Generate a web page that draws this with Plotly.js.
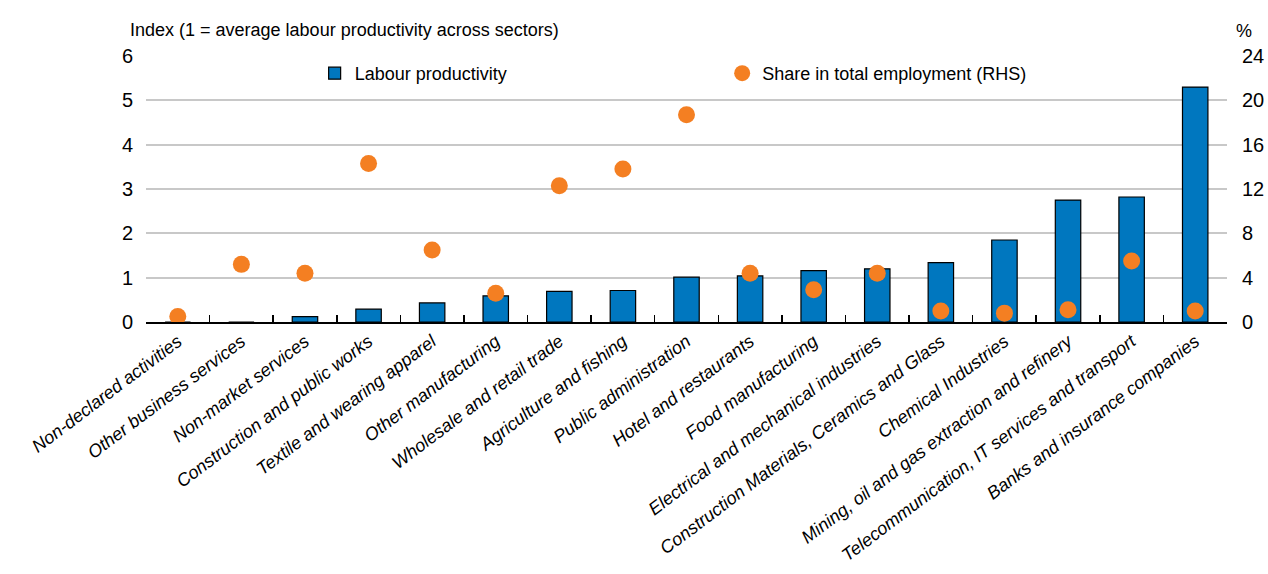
<!DOCTYPE html>
<html><head><meta charset="utf-8">
<script src="https://cdn.plot.ly/plotly-3.0.1.min.js"></script>
<style>html,body{margin:0;padding:0;background:#fff}#chart{width:1268px;height:574px}</style>
</head><body><div id="chart"></div>
<script>
const categories = ["Non-declared activities","Other business services","Non-market services","Construction and public works","Textile and wearing apparel","Other manufacturing","Wholesale and retail trade","Agriculture and fishing","Public administration","Hotel and restaurants","Food manufacturing","Electrical and mechanical industries","Construction Materials, Ceramics and Glass","Chemical Industries","Mining, oil and gas extraction and refinery","Telecommunication, IT services and transport","Banks and insurance companies"];
const productivity = [0.0, 0.0, 0.12, 0.29, 0.43, 0.59, 0.69, 0.71, 1.01, 1.04, 1.16, 1.20, 1.34, 1.85, 2.75, 2.82, 5.30];
const employmentShare = [0.5, 5.2, 4.4, 14.3, 6.5, 2.6, 12.3, 13.8, 18.7, 4.4, 2.9, 4.4, 1.0, 0.8, 1.1, 5.5, 1.0];
const leftTicks = [0,1,2,3,4,5,6];
const rightTicks = [0,4,8,12,16,20,24];

const FONT = '"Liberation Sans", Arial, sans-serif';
const traces = [
  {type:'bar', x:categories, y:productivity, name:'Labour productivity', yaxis:'y', legend:'legend',
   marker:{color:'#0077BF', line:{color:'#000', width:1.2}}, width:0.4},
  {type:'scatter', mode:'markers', x:categories, y:employmentShare, name:'Share in total employment (RHS)', yaxis:'y2', legend:'legend2',
   marker:{color:'#F47F22', size:17}}
];
const layout = {
  width:1268, height:574,
  margin:{l:146, r:41, t:56, b:252},
  paper_bgcolor:'#fff', plot_bgcolor:'#fff',
  font:{family:FONT, size:18, color:'#000'},
  xaxis:{type:'category', range:[-0.5, categories.length-0.5], tickangle:-37, tickfont:{family:FONT, size:18, style:'italic'},
         ticks:'inside', tickson:'boundaries', ticklen:7, tickcolor:'#000', tickwidth:1.5,
         showline:true, linecolor:'#000', linewidth:2, showgrid:false, automargin:false},
  yaxis:{range:[0,6], tickvals:leftTicks, showgrid:true, gridcolor:'#C8C8C8', gridwidth:2,
         zeroline:false, showline:false, ticks:'', tickfont:{size:20}, ticklabelstandoff:12, automargin:false},
  yaxis2:{range:[0,24], tickvals:rightTicks, overlaying:'y', side:'right', showgrid:false,
          zeroline:false, showline:false, ticks:'', tickfont:{size:20}, ticklabelstandoff:14, automargin:false},
  showlegend:true,
  legend:{x:0.156, y:1.004, xanchor:'left', yanchor:'top', bgcolor:'rgba(0,0,0,0)', font:{size:18}},
  legend2:{x:0.533, y:1.004, xanchor:'left', yanchor:'top', bgcolor:'rgba(0,0,0,0)', font:{size:18}},
  annotations:[
    {xref:'paper', yref:'paper', x:-0.0167, y:1.0, yshift:26, xanchor:'left', yanchor:'middle', showarrow:false,
     text:'Index (1 = average labour productivity across sectors)', font:{size:18}},
    {xref:'paper', yref:'paper', x:1.0157, y:1.0, yshift:25, xanchor:'center', yanchor:'middle', showarrow:false,
     text:'%', font:{size:18}}
  ]
};
Plotly.newPlot('chart', traces, layout, {displayModeBar:false, staticPlot:true});
</script></body></html>
